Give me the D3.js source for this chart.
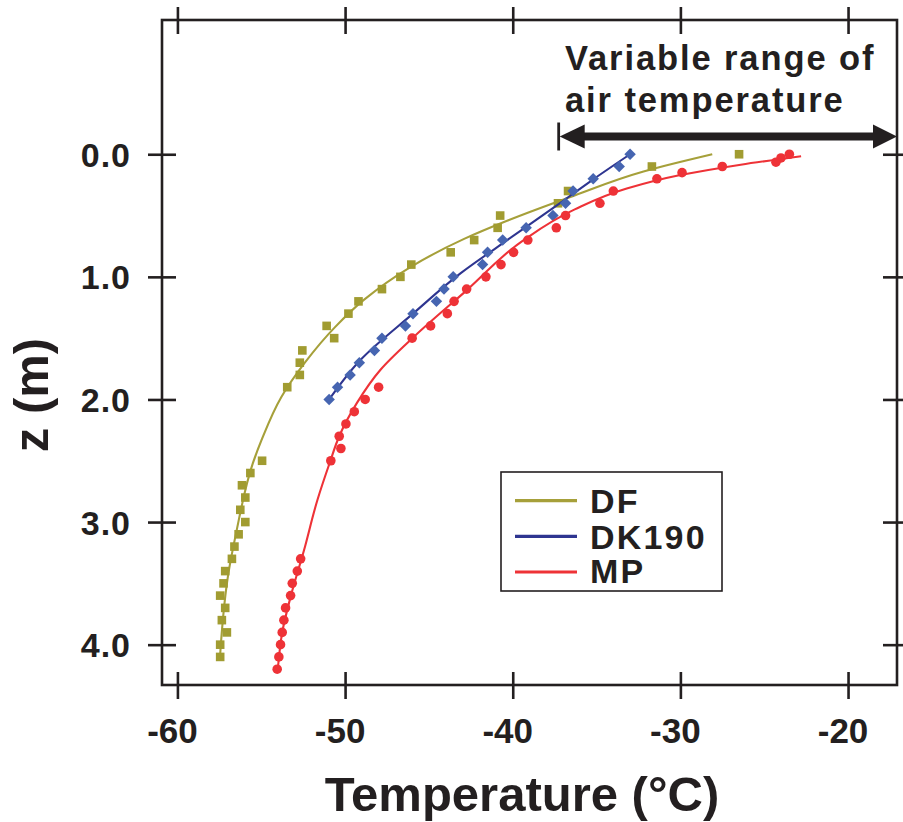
<!DOCTYPE html>
<html>
<head>
<meta charset="utf-8">
<script src="https://cdn.jsdelivr.net/npm/d3@7"></script>
<style>
  html, body { margin: 0; padding: 0; background: #fff; }
  svg { display: block; }
  text { font-family: "Liberation Sans", Arial, Helvetica, sans-serif; font-weight: bold; fill: #231f20; }
</style>
</head>
<body>
<svg id="chart" width="903" height="822"></svg>
<script>
// ---------- data ----------
const xTicks = [-60, -50, -40, -30, -20];
const yTicks = [0, 1, 2, 3, 4];
const yTickLabels = ["0.0", "1.0", "2.0", "3.0", "4.0"];
const seriesNames = ["DF", "DK190", "MP"];

// DF measured points (squares)
const dfZ = [0.0,0.1,0.3,0.4,0.5,0.6,0.7,0.8,0.9,1.0,1.1,1.2,1.3,1.4,1.5,1.6,1.7,1.8,1.9,2.5,2.6,2.7,2.8,2.9,3.0,3.1,3.2,3.3,3.4,3.5,3.6,3.7,3.8,3.9,4.0,4.1];
const dfT = [-26.5,-31.7,-36.7,-37.3,-40.75,-40.9,-42.3,-43.7,-46.05,-46.7,-47.8,-49.2,-49.8,-51.1,-50.65,-52.55,-52.7,-52.7,-53.45,-54.95,-55.65,-56.15,-55.95,-56.25,-55.95,-56.35,-56.6,-56.75,-57.15,-57.25,-57.45,-57.15,-57.35,-57.05,-57.45,-57.45];
// DF model curve
const dfLineZ = [0, 0.14, 0.35, 0.54, 0.69, 0.92, 1.19, 1.41, 1.70, 1.98, 2.32, 2.52, 3.09, 3.41, 3.98, 4.08];
const dfLineT = [-28.1, -32.2, -36.6, -40.3, -42.9, -46.1, -48.9, -50.6, -52.4, -53.8, -54.95, -55.5, -56.5, -56.95, -57.4, -57.45];

// DK190 measured points (diamonds)
const dkZ = [0,0.1,0.2,0.3,0.4,0.5,0.6,0.7,0.8,0.9,1.0,1.1,1.2,1.3,1.4,1.5,1.6,1.7,1.8,1.9,2.0];
const dkT = [-33.0,-33.65,-35.2,-36.4,-36.85,-37.6,-39.2,-40.6,-41.5,-41.8,-43.55,-44.1,-44.55,-45.95,-46.4,-47.8,-48.25,-49.15,-49.7,-50.45,-50.95];
// DK190 model curve
const dkLineZ = [0, 0.2, 0.4, 0.755, 0.97, 1.3, 1.68, 2.0];
const dkLineT = [-33.0, -35.15, -37.2, -40.9, -43.1, -45.95, -49.1, -50.95];

// MP measured points (circles)
const mpZ = [0,0.03,0.065,0.1,0.15,0.2,0.3,0.4,0.5,0.6,0.7,0.8,0.9,1.0,1.1,1.2,1.3,1.4,1.5,1.9,2.0,2.1,2.2,2.3,2.4,2.5,3.3,3.4,3.5,3.6,3.7,3.8,3.9,4.0,4.1,4.2];
const mpT = [-23.5,-24.0,-24.3,-27.5,-29.9,-31.4,-34.0,-34.8,-36.85,-37.4,-39.1,-39.95,-40.7,-41.6,-42.75,-43.5,-43.9,-44.9,-46.0,-48.0,-48.8,-49.45,-49.95,-50.35,-50.25,-50.85,-52.65,-52.85,-53.15,-53.25,-53.55,-53.65,-53.75,-53.85,-53.95,-54.05];
// MP model curve
const mpLineZ = [0.016, 0.085, 0.17, 0.28, 0.45, 0.70, 1.11, 1.49, 1.76, 2.03, 2.30, 2.51, 2.82, 3.23, 3.61, 3.90, 4.18];
const mpLineT = [-22.8, -26.4, -30.0, -33.2, -36.3, -39.35, -42.75, -45.9, -47.9, -49.3, -50.35, -50.9, -51.65, -52.45, -53.25, -53.75, -54.0];

// air temperature range annotation
const airRange = [-37.2, -17.08];

// ---------- layout ----------
const svg = d3.select("#chart");
const L = 162, R = 897, T = 20, B = 685;
const x = d3.scaleLinear().domain([-60.92, -17.08]).range([L, R]);
const y = d3.scaleLinear().domain([-1.095, 4.329]).range([T, B]);
const ink = "#231f20";

const colors = {
  DF:   { pt: "#a19c31", ln: "#a6a03a" },
  DK190:{ pt: "#4665b1", ln: "#2e3590" },
  MP:   { pt: "#ee3237", ln: "#ee3237" }
};

// frame
svg.append("rect").attr("x", L).attr("y", T).attr("width", R - L).attr("height", B - T)
  .attr("fill", "none").attr("stroke", ink).attr("stroke-width", 2.6);

// axes (ticks crossing the frame)
function styleAxis(g, horiz) {
  g.select(".domain").remove();
  g.selectAll(".tick line").attr("stroke", ink).attr("stroke-width", 2.6);
  g.selectAll(".tick text").remove();
  if (horiz) g.selectAll(".tick line").attr("y1", -13).attr("y2", 14);
  else g.selectAll(".tick line").attr("x1", -14).attr("x2", 14);
}
svg.append("g").attr("transform", `translate(0,${B})`)
  .call(d3.axisBottom(x).tickValues(xTicks).tickSize(0)).call(g => styleAxis(g, true));
svg.append("g").attr("transform", `translate(0,${T})`)
  .call(d3.axisTop(x).tickValues(xTicks).tickSize(0)).call(g => styleAxis(g, true));
svg.append("g").attr("transform", `translate(${L},0)`)
  .call(d3.axisLeft(y).tickValues(yTicks).tickSize(0)).call(g => styleAxis(g, false));
svg.append("g").attr("transform", `translate(${R},0)`)
  .call(d3.axisRight(y).tickValues(yTicks).tickSize(0)).call(g => styleAxis(g, false));

// tick labels
svg.append("g").selectAll("text").data(xTicks).join("text")
  .attr("x", d => x(d) - 5).attr("y", 743)
  .attr("text-anchor", "middle").attr("font-size", 35)
  .text(d => String(d));
svg.append("g").selectAll("text").data(yTicks).join("text")
  .attr("x", 131).attr("y", d => y(d) + 12.5)
  .attr("text-anchor", "end").attr("font-size", 34).attr("letter-spacing", 1)
  .text((d, i) => yTickLabels[i]);

// axis titles
svg.append("text").attr("x", 522).attr("y", 811).attr("text-anchor", "middle")
  .attr("font-size", 49).text("Temperature (°C)");
svg.append("text").attr("transform", "translate(48,395) rotate(-90)").attr("text-anchor", "middle")
  .attr("font-size", 49).text("z (m)");

// ---------- series ----------
const line = d3.line().x(d => x(d[1])).y(d => y(d[0])).curve(d3.curveMonotoneY);
const zip = (a, b) => a.map((v, i) => [v, b[i]]);

function drawLine(zs, ts, c) {
  svg.append("path").datum(zip(zs, ts)).attr("d", line)
    .attr("fill", "none").attr("stroke", c).attr("stroke-width", 2.1);
}

// DF
drawLine(dfLineZ, dfLineT, colors.DF.ln);
svg.append("g").selectAll("rect").data(zip(dfZ, dfT)).join("rect")
  .attr("x", d => x(d[1]) - 4.3).attr("y", d => y(d[0]) - 4.3)
  .attr("width", 8.6).attr("height", 8.6).attr("fill", colors.DF.pt);

// DK190
drawLine(dkLineZ, dkLineT, colors.DK190.ln);
svg.append("g").selectAll("path").data(zip(dkZ, dkT)).join("path")
  .attr("d", d3.symbol().type(d3.symbolSquare).size(66)())
  .attr("transform", d => `translate(${x(d[1])},${y(d[0])}) rotate(45)`)
  .attr("fill", colors.DK190.pt);

// MP
drawLine(mpLineZ, mpLineT, colors.MP.ln);
svg.append("g").selectAll("circle").data(zip(mpZ, mpT)).join("circle")
  .attr("cx", d => x(d[1])).attr("cy", d => y(d[0])).attr("r", 4.8)
  .attr("fill", colors.MP.pt);

// ---------- annotation: variable range of air temperature ----------
const ay = 136.5;
const ax1 = x(airRange[0]), ax2 = x(airRange[1]);
svg.append("line").attr("x1", ax1 + 20).attr("x2", ax2 - 20).attr("y1", ay).attr("y2", ay)
  .attr("stroke", ink).attr("stroke-width", 8);
svg.append("path").attr("d", `M${ax1},${ay} L${ax1 + 25},${ay - 12} L${ax1 + 25},${ay + 12} Z`).attr("fill", ink);
svg.append("path").attr("d", `M${ax2},${ay} L${ax2 - 24},${ay - 12} L${ax2 - 24},${ay + 12} Z`).attr("fill", ink);
svg.append("line").attr("x1", ax1 - 1).attr("x2", ax1 - 1).attr("y1", ay - 14).attr("y2", ay + 14)
  .attr("stroke", ink).attr("stroke-width", 2.8);
svg.append("text").attr("x", 565).attr("y", 70).attr("font-size", 34.5).attr("letter-spacing", 1.9)
  .text("Variable range of");
svg.append("text").attr("x", 565).attr("y", 112).attr("font-size", 34.5).attr("letter-spacing", 1.9)
  .text("air temperature");

// ---------- legend ----------
const lg = svg.append("g");
lg.append("rect").attr("x", 501).attr("y", 472).attr("width", 221).attr("height", 119)
  .attr("fill", "#fff").attr("stroke", ink).attr("stroke-width", 1.6);
const legendY = [500.7, 536.3, 572];
const legendBase = [513, 548.5, 583];
seriesNames.forEach((n, i) => {
  lg.append("line").attr("x1", 515).attr("x2", 577).attr("y1", legendY[i]).attr("y2", legendY[i])
    .attr("stroke", colors[n].ln).attr("stroke-width", 3.2);
  lg.append("text").attr("x", 590).attr("y", legendBase[i]).attr("font-size", 34)
    .attr("letter-spacing", 2.2).text(n);
});
</script>
</body>
</html>
